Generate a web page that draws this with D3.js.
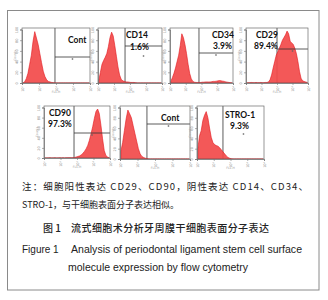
<!DOCTYPE html>
<html><head><meta charset="utf-8">
<script src="https://cdn.jsdelivr.net/npm/d3@7"></script>
<style>body{margin:0;background:#fff}</style>
</head><body>
<svg id="c" width="328" height="300"></svg>
<script>
// ---------- data ----------
const panelNames = ["Cont","CD14","CD34","CD29","CD90","Cont","STRO-1"];
const panelPercents = ["","1.6%","3.9%","89.4%","97.3%","","9.3%"];
const gateDecade = [1.94,1.69,1.84,2.0,1.82,1.54,1.55];
const decadeTicks = [0,1,2,3,4];
const decadeLabels = ["10⁰","10¹","10²","10³","10⁴"];
const countTicks = [0,20,40,60,80,100];
const binCenters = [0.05,0.15,0.25,0.35,0.45,0.55,0.65,0.75,0.85,0.95,1.05,1.15,1.25,1.35,1.45,1.55,1.65,1.75,1.85,1.95,
                    2.05,2.15,2.25,2.35,2.45,2.55,2.65,2.75,2.85,2.95,3.05,3.15,3.25,3.35,3.45,3.55,3.65,3.75,3.85,3.95];
const contA = [0,2,8,18,35,52,78,96,84,72,55,38,22,12,6,3,2,1,0.5,0, 0,0,0,0,0,0,0,0,0,0, 0,0,0,0,0,0,0,0,0,0];
const cd14  = [5,20,35,42,48,55,68,85,95,88,70,50,30,15,7,4,3,2,2,1.5, 1,1,1,0.5,0,0,0,0,0,0, 0,0,0,0,0,0,0,0,0,0];
const cd34  = [3,10,18,28,40,52,70,92,85,72,55,35,18,8,3,1.5,1,1,1,1, 1.5,1.5,2,2,2,2,2.5,3,3,3.5,4,4.5,4,3.5,3,2,1.5,1,0.5,0];
const cd29  = [0,0.5,0.5,1,0.5,0.5,1,0.5,0.5,1,0.5,0.5,1,1,2,6,15,28,40,52, 58,65,72,80,85,90,97,92,78,75,72,65,55,40,22,9,4,3,2,1];
const cd90  = [0,0,0,0.3,0,0,0.3,0,0,0.3,0,0.3,0,0.3,0.3,0.5,0.3,0.5,1,2, 3,4,6,9,13,18,25,35,48,62,78,92,97,88,65,38,15,5,2,0.5];
const contB = [15,32,55,78,95,88,80,65,50,35,20,10,5,3,1.5,1,0,0,0,0, 0,0,0,0,0,0,0,0,0,0, 0,0,0,0,0,0,0,0,0,0];
const stro1 = [20,45,55,75,85,92,80,60,42,32,28,26,25,22,18,14,10,6,3,1.5, 0.5,0,0,0,0,0,0,0,0,0, 0,0,0,0,0,0,0,0,0,0];
const series = [contA, cd14, cd34, cd29, cd90, contB, stro1];

const noteLine1 = "注：细胞阳性表达 CD29、CD90，阴性表达 CD14、CD34、";
const noteLine2 = "STRO-1，与干细胞表面分子表达相似。";
const titleNo = "图 1";
const titleCn = "流式细胞术分析牙周膜干细胞表面分子表达";
const figNo = "Figure 1";
const titleEn1 = "Analysis of periodontal ligament stem cell surface";
const titleEn2 = "molecule expression by flow cytometry";

// ---------- layout ----------
const layout = [
  {x0:22, x1:90,  y0:28,  y1:83,  hy:57,  lab:[68,43],  pct:null},
  {x0:98, x1:162, y0:28,  y1:83,  hy:46,  lab:[126,38], pct:[130,50]},
  {x0:170,x1:233, y0:28,  y1:83,  hy:53,  lab:[212,38], pct:[213,49]},
  {x0:246,x1:308, y0:28,  y1:83,  hy:49,  lab:[256,38], pct:[254,49]},
  {x0:44, x1:110, y0:106, y1:158, hy:133, lab:[49,116], pct:[48,127]},
  {x0:120,x1:190, y0:106, y1:159, hy:124, lab:[161,121],pct:null},
  {x0:197,x1:264, y0:106, y1:159, hy:null,lab:[225,118],pct:[230,129]}
];

const svg = d3.select("#c");
svg.append("rect").attr("x",7.5).attr("y",10.5).attr("width",311.5).attr("height",279.5)
   .attr("fill","none").attr("stroke","#8a8a8a").attr("stroke-width",1);

layout.forEach((L,i)=>{
  const g = svg.append("g");
  const x = d3.scaleLinear().domain([0,4]).range([L.x0,L.x1]);
  const y = d3.scaleLinear().domain([0,100]).range([L.y1,L.y0+1.5]);
  const cid = "clip"+i;
  svg.append("clipPath").attr("id",cid).append("rect")
     .attr("x",L.x0).attr("y",L.y0).attr("width",L.x1-L.x0).attr("height",L.y1-L.y0);
  // gate vertical line (behind histogram)
  g.append("line").attr("x1",x(gateDecade[i])).attr("x2",x(gateDecade[i]))
    .attr("y1",L.y0).attr("y2",L.y1).attr("stroke","#333").attr("stroke-width",0.8);
  // histogram
  const data = binCenters.map((c,k)=>({c, v:series[i][k]}));
  const area = d3.area().x(d=>x(d.c)).y0(L.y1).y1(d=>y(d.v)).curve(d3.curveLinear);
  g.append("path").datum(data).attr("d",area).attr("clip-path",`url(#${cid})`)
    .attr("fill","#f24a4a").attr("fill-opacity",0.92)
    .attr("stroke","#e3151c").attr("stroke-width",0.6);
  // gate horizontal line
  if (L.hy!==null) {
    g.append("line").attr("x1",x(gateDecade[i])).attr("x2",L.x1)
      .attr("y1",L.hy).attr("y2",L.hy).attr("stroke","#333").attr("stroke-width",0.8);
  }
  // tiny quadrant marker (a small mark, not text)
  const mx = (x(gateDecade[i])+L.x1)/2, my = (L.hy!==null?L.hy:L.y0+26)+(i===1?10:2);
  g.append("path").attr("d",`M${mx-1},${my}h2M${mx},${my-1}v2`).attr("stroke","#666").attr("stroke-width",0.6);
  // frame
  g.append("rect").attr("x",L.x0).attr("y",L.y0).attr("width",L.x1-L.x0).attr("height",L.y1-L.y0)
    .attr("fill","none").attr("stroke","#6a6a6a").attr("stroke-width",0.7);
  // axes
  const ax = g.append("g").attr("transform",`translate(0,${L.y1})`)
    .call(d3.axisBottom(x).tickValues(decadeTicks).tickFormat((d,k)=>decadeLabels[k]).tickSize(2).tickPadding(1));
  const ay = g.append("g").attr("transform",`translate(${L.x0},0)`)
    .call(d3.axisLeft(y).tickValues(countTicks).tickSize(2).tickPadding(1));
  [ax,ay].forEach(a=>{
    a.select(".domain").attr("stroke","#6a6a6a").attr("stroke-width",0.7);
    a.selectAll(".tick line").attr("stroke","#777").attr("stroke-width",0.6);
    a.selectAll(".tick text").attr("font-size",3.5).attr("fill","#888").attr("font-family","DejaVu Sans");
  });
  ax.selectAll(".tick text").attr("transform","rotate(-90)").attr("text-anchor","end")
    .attr("dy","0.3em").attr("x",-3).attr("y",0);
  ay.selectAll(".tick text").attr("transform","rotate(-90)").attr("text-anchor","middle")
    .attr("x",0).attr("y",-4).attr("dy",0);
  g.append("text").attr("x",(L.x0+L.x1)/2).attr("y",L.y1+10).attr("text-anchor","middle")
    .attr("font-size",3).attr("fill","#999").attr("font-family","DejaVu Sans").text("FL1-H");
  g.append("text").attr("transform",`translate(${L.x0-6},${(L.y0+L.y1)/2}) rotate(-90)`)
    .attr("text-anchor","middle").attr("font-size",3).attr("fill","#999")
    .attr("font-family","DejaVu Sans").text("Counts");
  // labels
  g.append("text").attr("x",L.lab[0]).attr("y",L.lab[1]).attr("font-family","Lato")
    .attr("font-weight","bold").attr("font-size",8.5).attr("fill","#111").text(panelNames[i]);
  if (L.pct) g.append("text").attr("x",L.pct[0]).attr("y",L.pct[1]).attr("font-family","Lato")
    .attr("font-weight","bold").attr("font-size",8.5).attr("fill","#111").text(panelPercents[i]);
});

// ---------- captions ----------
const cjk = "'Noto Sans CJK SC', sans-serif";
svg.append("text").attr("x",22).attr("y",190).attr("font-family",cjk).attr("font-size",9.5)
   .attr("fill","#222").attr("textLength",286).attr("lengthAdjust","spacing").text(noteLine1);
svg.append("text").attr("x",22).attr("y",208).attr("font-family",cjk).attr("font-size",9)
   .attr("fill","#222").text(noteLine2);
svg.append("text").attr("x",43).attr("y",232).attr("font-family",cjk).attr("font-size",10)
   .attr("font-weight",500).attr("fill","#222").text(titleNo);
svg.append("text").attr("x",71).attr("y",232).attr("font-family",cjk).attr("font-size",10)
   .attr("font-weight",500).attr("fill","#222").attr("textLength",198).attr("lengthAdjust","spacing").text(titleCn);
svg.append("text").attr("x",22).attr("y",253).attr("font-family","Liberation Sans").attr("font-size",10)
   .attr("fill","#222").text(figNo);
svg.append("text").attr("x",71).attr("y",253).attr("font-family","Liberation Sans").attr("font-size",10)
   .attr("fill","#222").attr("textLength",231).attr("lengthAdjust","spacingAndGlyphs").text(titleEn1);
svg.append("text").attr("x",68).attr("y",271).attr("font-family","Liberation Sans").attr("font-size",10)
   .attr("fill","#222").attr("textLength",180).attr("lengthAdjust","spacingAndGlyphs").text(titleEn2);
</script>
</body></html>
